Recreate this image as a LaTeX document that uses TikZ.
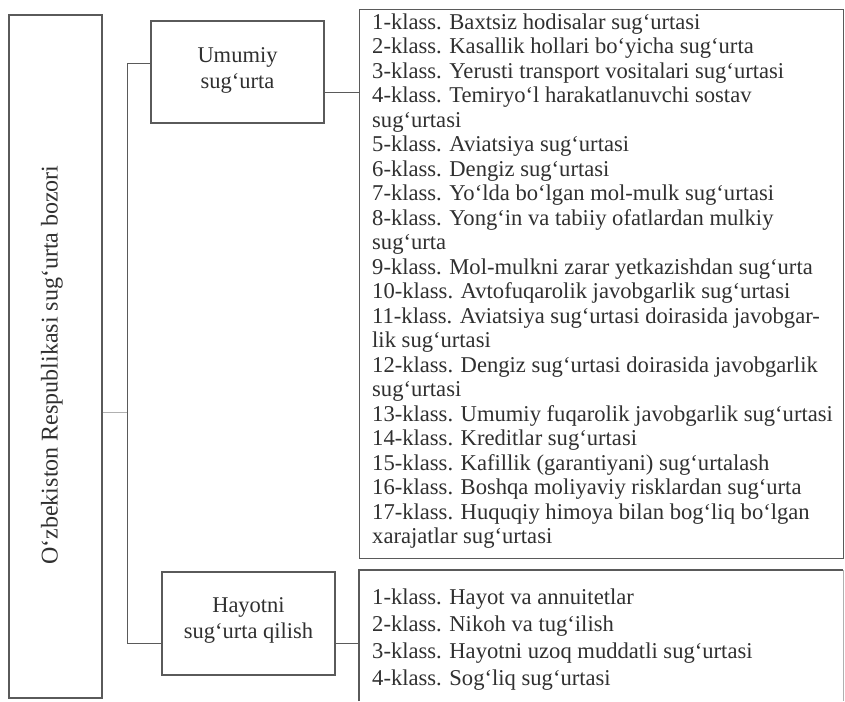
\documentclass[tikz,border=0pt]{standalone}
\usepackage{fontspec}
\setmainfont{Liberation Serif}
\definecolor{ln}{HTML}{5A5A5A}
\definecolor{lnlight}{HTML}{B0B0B0}
\definecolor{tx}{HTML}{303030}
\begin{document}
\begin{tikzpicture}[x=1pt,y=-1pt,
  frame/.style={draw=ln, line width=1.1pt, rectangle, inner sep=0pt},
  conn/.style={draw=ln, line width=1pt},
  lbl/.style={text=tx, font={\fontsize{22.5}{26}\selectfont}, align=center, inner sep=0pt},
  listtext/.style={text=tx, font={\fontsize{22.6}{24.5}\selectfont}, align=left, inner sep=0pt, anchor=north west}]
\useasboundingbox (0,0) rectangle (845,701);
\fill[white] (0,0) rectangle (845,701);
% left box
\node[frame, minimum width=93pt, minimum height=683pt] (market) at (55.5,356.5) {};
\node[lbl, rotate=90, font={\fontsize{24}{28}\selectfont}] (marketlbl) at (52,365) {O‘zbekiston Respublikasi sug‘urta bozori};
% second level boxes
\node[frame, minimum width=173pt, minimum height=102pt] (umumiy) at (237.5,72) {};
\node[lbl] (umumiylbl) at (237.5,70) {Umumiy\\sug‘urta};
\node[frame, minimum width=173pt, minimum height=103pt] (hayot) at (248.5,623.5) {};
\node[lbl] (hayotlbl) at (248.5,620.5) {Hayotni\\sug‘urta qilish};
% list box 1
\node[frame, minimum width=484pt, minimum height=549pt, anchor=north west] (list1) at (359,9) {};
\node[listtext] (list1txt) at (372,13.5) {1-klass. Baxtsiz hodisalar sug‘urtasi\\
2-klass. Kasallik hollari bo‘yicha sug‘urta\\
3-klass. Yerusti transport vositalari sug‘urtasi\\
4-klass. Temiryo‘l harakatlanuvchi sostav\\
sug‘urtasi\\
5-klass. Aviatsiya sug‘urtasi\\
6-klass. Dengiz sug‘urtasi\\
7-klass. Yo‘lda bo‘lgan mol-mulk sug‘urtasi\\
8-klass. Yong‘in va tabiiy ofatlardan mulkiy\\
sug‘urta\\
9-klass. Mol-mulkni zarar yetkazishdan sug‘urta\\
10-klass. Avtofuqarolik javobgarlik sug‘urtasi\\
11-klass. Aviatsiya sug‘urtasi doirasida javobgar-\\
lik sug‘urtasi\\
12-klass. Dengiz sug‘urtasi doirasida javobgarlik\\
sug‘urtasi\\
13-klass. Umumiy fuqarolik javobgarlik sug‘urtasi\\
14-klass. Kreditlar sug‘urtasi\\
15-klass. Kafillik (garantiyani) sug‘urtalash\\
16-klass. Boshqa moliyaviy risklardan sug‘urta\\
17-klass. Huquqiy himoya bilan bog‘liq bo‘lgan\\
xarajatlar sug‘urtasi};
% list box 2 (open at the bottom)
\coordinate (l2bl) at (359,701);
\coordinate (l2tr) at (843,570);
\coordinate (l2br) at (843,701);
\draw[draw=ln, line width=1.1pt] (l2bl) |- (l2tr);
\draw[draw=lnlight, line width=1pt] (l2tr) -- (l2br);
\node[listtext, font={\fontsize{22.6}{27}\selectfont}] (list2txt) at (372,589) {1-klass. Hayot va annuitetlar\\
2-klass. Nikoh va tug‘ilish\\
3-klass. Hayotni uzoq muddatli sug‘urtasi\\
4-klass. Sog‘liq sug‘urtasi};
% connectors
\coordinate (bt) at (127,63);
\coordinate (bm) at (127,412);
\coordinate (bb) at (127,643);
\draw[conn] (bt) -- (bb);
\draw[conn] (bt) -- (umumiy.west |- bt);
\draw[conn] (bb) -- (hayot.west |- bb);
\draw[conn, draw=lnlight] (market.east |- bm) -- (bm);
\coordinate (c1) at (0,92);
\draw[conn] (umumiy.east |- c1) -- (list1.west |- c1);
\draw[conn] (hayot.east |- bb) -- (l2bl |- bb);
\end{tikzpicture}
\end{document}
